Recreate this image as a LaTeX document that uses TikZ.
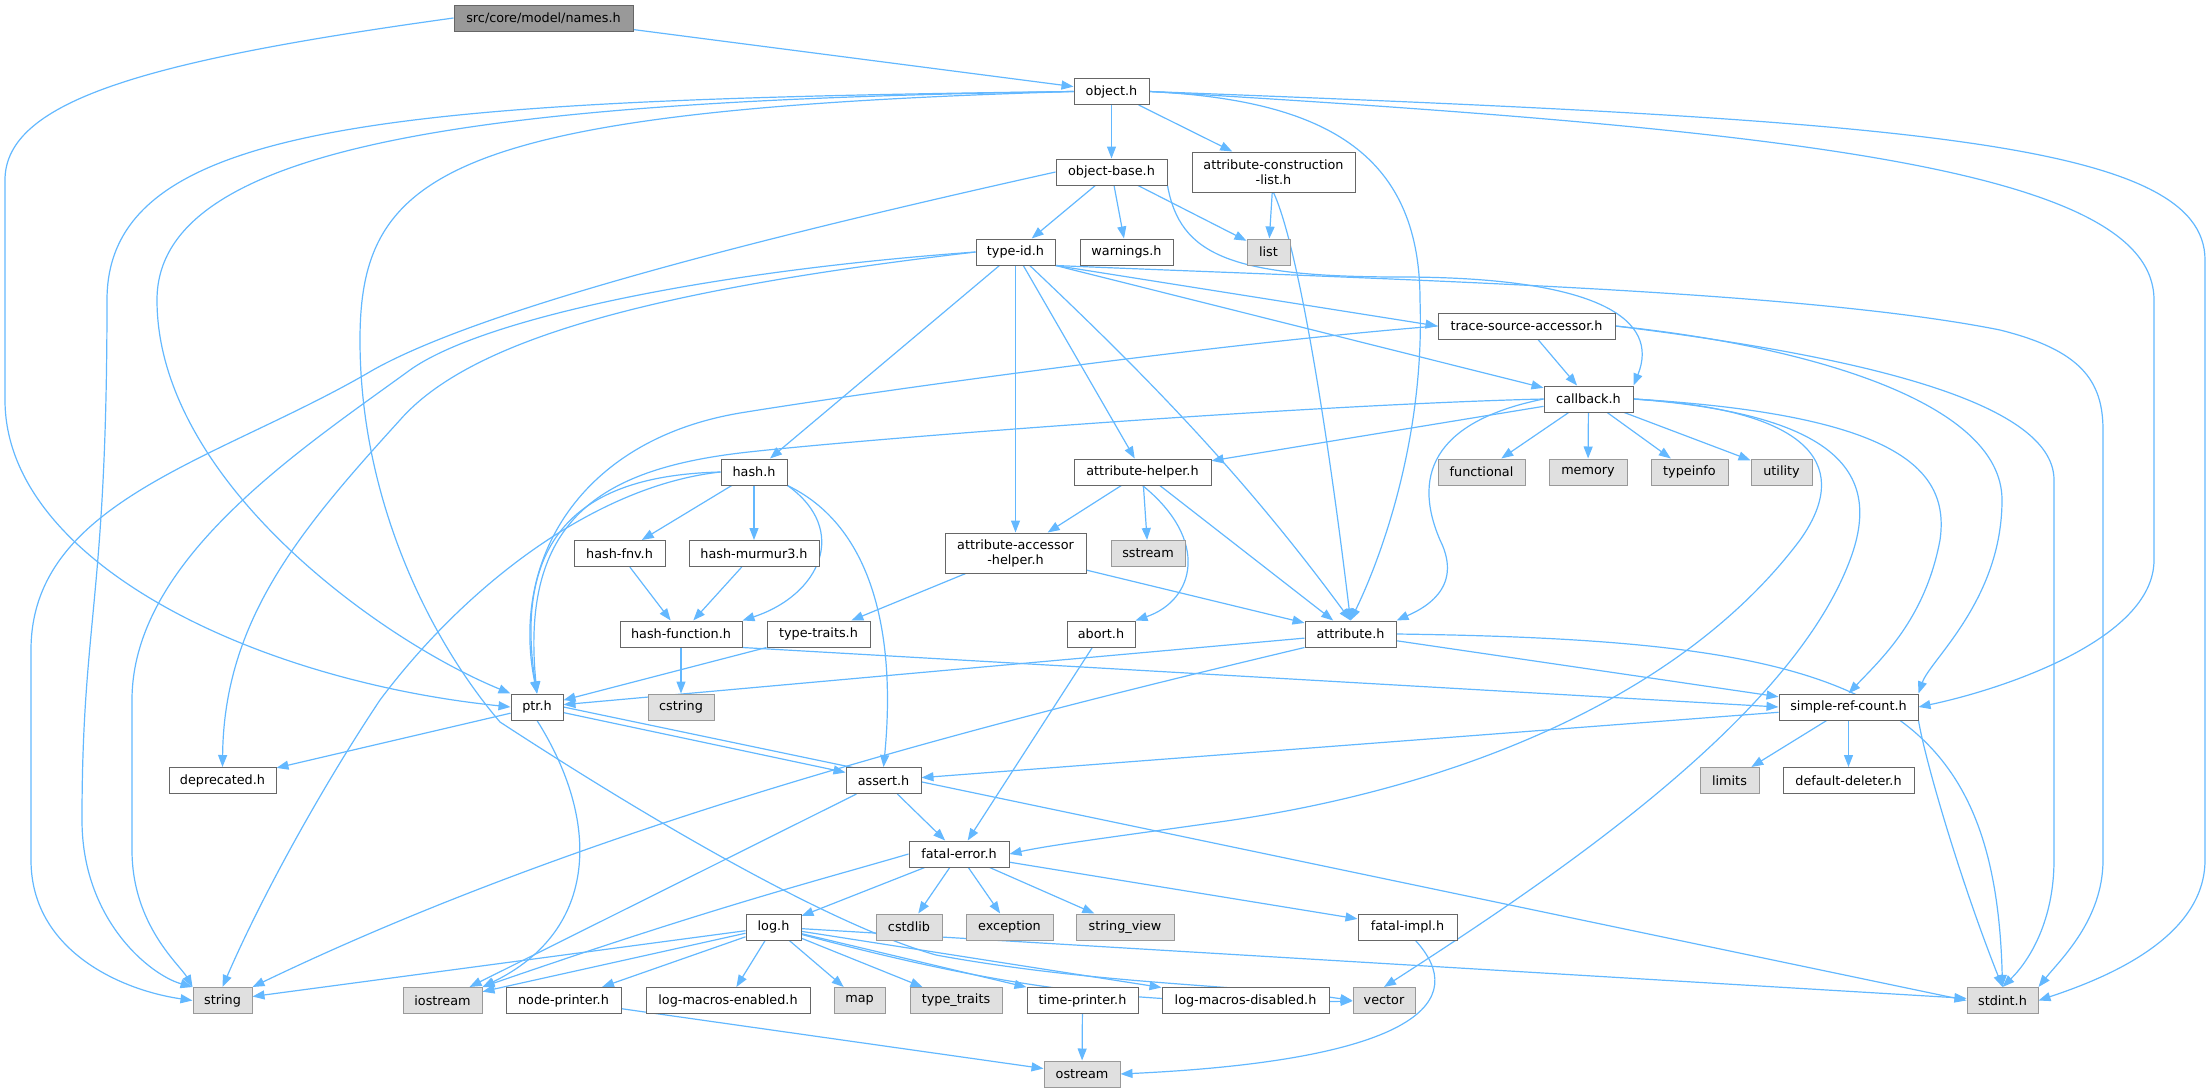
\documentclass[tikz,border=0pt]{standalone}
\usepackage{fontspec}
\setmainfont{DejaVu Sans}
\usepackage{tikz}
\usetikzlibrary{arrows.meta,backgrounds}
\definecolor{edgeblue}{HTML}{63B8FF}
\definecolor{sysfill}{HTML}{E0E0E0}
\definecolor{rootfill}{HTML}{999999}

\begin{document}
\begin{tikzpicture}[
	x=1pt, y=-1pt,
	every node/.style={
		rectangle, draw=black!60, fill=white,
		line width=1pt,
		inner sep=0pt,
		minimum height=26pt,
		align=center,
		font=\fontsize{12.8}{15}\selectfont
	},
	sys/.style={draw=black!40, fill=sysfill},
	root/.style={fill=rootfill},
	dep/.style={draw=edgeblue, line width=1.2pt, -{Triangle[length=12pt,width=9pt]}}
]
\useasboundingbox (0,0) rectangle (2209,1092);

% headers, row by row
\node[root, minimum width=179pt] (names) at (543.5,18) {src/core/model/names.h};
\node[minimum width=75pt] (object) at (1111.5,91.5) {object.h};
\node[minimum width=111pt] (objbase) at (1111.5,172) {object-base.h};
\node[minimum width=163pt, minimum height=40pt] (attrconstr) at (1273.5,172) {attribute-construction\\-list.h};
\node[minimum width=79pt] (typeid) at (1015.5,252) {type-id.h};
\node[minimum width=93pt] (warnings) at (1126.5,252) {warnings.h};
\node[sys, minimum width=43pt] (list) at (1268.5,252) {list};
\node[minimum width=177pt] (tracesrc) at (1526.5,326) {trace-source-accessor.h};
\node[minimum width=89pt] (callback) at (1588.5,399) {callback.h};
\node[minimum width=66pt] (hash) at (754,472) {hash.h};
\node[minimum width=137pt] (attrhelper) at (1142.5,472) {attribute-helper.h};
\node[sys, minimum width=87pt] (functional) at (1481.5,472) {functional};
\node[sys, minimum width=78pt] (memory) at (1588,472) {memory};
\node[sys, minimum width=77pt] (typeinfo) at (1689.5,472) {typeinfo};
\node[sys, minimum width=61pt] (utility) at (1781.5,472) {utility};
\node[minimum width=91pt] (hashfnv) at (619.5,553.5) {hash-fnv.h};
\node[minimum width=130pt] (hashmurmur) at (754,553.5) {hash-murmur3.h};
\node[minimum width=141pt, minimum height=40pt] (attraccessor) at (1015.5,553) {attribute-accessor\\-helper.h};
\node[sys, minimum width=74pt] (sstream) at (1148,553.5) {sstream};
\node[minimum width=122pt] (hashfunction) at (681,634) {hash-function.h};
\node[minimum width=103pt] (typetraits) at (818.5,634) {type-traits.h};
\node[minimum width=68pt] (abort) at (1101,634) {abort.h};
\node[minimum width=91pt] (attribute) at (1350.5,634) {attribute.h};
\node[minimum width=52pt] (ptr) at (537,707) {ptr.h};
\node[sys, minimum width=66pt] (cstring) at (681,707) {cstring};
\node[minimum width=139pt] (simpleref) at (1848.5,707) {simple-ref-count.h};
\node[minimum width=107pt] (deprecated) at (222.5,780.5) {deprecated.h};
\node[minimum width=75pt] (assert) at (883.5,780.5) {assert.h};
\node[sys, minimum width=59pt] (limits) at (1729.5,780.5) {limits};
\node[minimum width=131pt] (defdeleter) at (1848.5,780.5) {default-deleter.h};
\node[minimum width=100pt] (fatalerror) at (959,854) {fatal-error.h};
\node[minimum width=55pt] (log) at (773.5,927) {log.h};
\node[sys, minimum width=66pt] (cstdlib) at (909,927) {cstdlib};
\node[sys, minimum width=87pt] (exception) at (1009.5,927) {exception};
\node[sys, minimum width=98pt] (stringview) at (1125,927) {string\_view};
\node[minimum width=99pt] (fatalimpl) at (1407.5,927) {fatal-impl.h};
\node[sys, minimum width=59pt] (string) at (222.5,1000.5) {string};
\node[sys, minimum width=79pt] (iostream) at (442.5,1000.5) {iostream};
\node[minimum width=115pt] (nodeprinter) at (563.5,1000.5) {node-printer.h};
\node[minimum width=164pt] (logenabled) at (728,1000.5) {log-macros-enabled.h};
\node[sys, minimum width=51pt] (map) at (859.5,1000.5) {map};
\node[sys, minimum width=92pt] (typetraitsstd) at (956,1000.5) {type\_traits};
\node[minimum width=111pt] (timeprinter) at (1082.5,1000.5) {time-printer.h};
\node[minimum width=167pt] (logdisabled) at (1245.5,1000.5) {log-macros-disabled.h};
\node[sys, minimum width=62pt] (vector) at (1384,1000.5) {vector};
\node[sys, minimum width=71pt] (stdint) at (2002.5,1000.5) {stdint.h};
\node[sys, minimum width=76pt] (ostream) at (1082,1074) {ostream};

\begin{scope}[on background layer]
% straight includes
\foreach \s/\t in {names/object, object/objbase, object/attrconstr,
	objbase/typeid, objbase/warnings, objbase/list, attrconstr/list,
	typeid/hash, typeid/attraccessor, typeid/attrhelper,
	tracesrc/callback, callback/functional, callback/memory, callback/typeinfo,
	callback/utility, callback/attrhelper, hash/hashfnv, hash/hashmurmur,
	hashfnv/hashfunction, hashmurmur/hashfunction, hashfunction/cstring,
	attrhelper/attraccessor, attrhelper/sstream, attrhelper/attribute,
	attraccessor/typetraits, attraccessor/attribute, typetraits/ptr, abort/fatalerror,
	attribute/ptr, attribute/simpleref, ptr/deprecated, ptr/assert,
	simpleref/assert, simpleref/limits, simpleref/defdeleter,
	assert/fatalerror, assert/iostream, fatalerror/log, fatalerror/cstdlib,
	fatalerror/exception, fatalerror/stringview, fatalerror/fatalimpl,
	log/string, log/iostream, log/nodeprinter, log/logenabled, log/map,
	log/typetraitsstd, log/timeprinter, log/logdisabled, log/stdint,
	nodeprinter/ostream, timeprinter/ostream}
	\draw[dep] (\s) -- (\t);
\draw[dep] (typeid.south east) -- (tracesrc.west);
\draw[dep] (typeid.south east) -- (callback);
\draw[dep] (hashfunction.south east) -- (simpleref.west);
\draw[dep] (ptr.east) -- (stdint.west);
\draw[dep] (log) to[bend right=8] (vector);

% long ones routed round the sides
\draw[dep] (names.west) .. controls (150,60) and (5,100) .. (5,180) -- (5,400)
	.. controls (5,560) and (250,680) .. (ptr.west);
\draw[dep] (object.west) .. controls (400,100) and (107,120) .. (107,300)
	.. controls (107,600) and (82,620) .. (82,820) .. controls (82,920) and (150,975) .. (string.north west);
\draw[dep] (object.west) .. controls (500,100) and (157,140) .. (157,300)
	.. controls (157,480) and (380,640) .. (ptr.north west);
\draw[dep] (object.west) .. controls (450,110) and (360,170) .. (360,340)
	.. controls (360,500) and (430,640) .. (500,722) .. controls (650,820) and (830,925) .. (936,955)
	.. controls (1100,985) and (1250,985) .. (vector.west);
\draw[dep] (object.east) .. controls (1320,100) and (1420,150) .. (1420,300)
	.. controls (1425,440) and (1380,560) .. (attribute.north);
\draw[dep] (object.east) .. controls (1800,130) and (2154,170) .. (2154,300) -- (2154,560)
	.. controls (2154,640) and (2000,690) .. (simpleref.east);
\draw[dep] (object.east) .. controls (1900,120) and (2205,140) .. (2205,260) -- (2205,860)
	.. controls (2205,940) and (2100,980) .. (stdint.east);
\draw[dep] (objbase.west) .. controls (750,240) and (480,310) .. (373,370)
	.. controls (220,460) and (31,500) .. (31,650) -- (31,860)
	.. controls (31,950) and (120,990) .. (string.west);
\draw[dep] (objbase.south east) .. controls (1180,255) and (1230,277) .. (1400,277)
	.. controls (1600,277) and (1660,320) .. (callback.north east);
\draw[dep] (attrconstr.south) .. controls (1300,250) and (1330,450) .. (attribute.north);
\draw[dep] (typeid) .. controls (1140,370) and (1240,470) .. (attribute.north);
\draw[dep] (typeid.south east) .. controls (1400,280) and (1800,290) .. (2000,330)
	.. controls (2080,350) and (2103,380) .. (2103,430) -- (2103,860)
	.. controls (2103,920) and (2060,960) .. (stdint.north east);
\draw[dep] (typeid.west) .. controls (700,272) and (480,320) .. (410,370)
	.. controls (300,450) and (132,560) .. (132,700) -- (132,850)
	.. controls (132,925) and (180,965) .. (string.north west);
\draw[dep] (typeid.west) .. controls (650,290) and (470,340) .. (400,420)
	.. controls (300,530) and (224,620) .. (deprecated.north);
\draw[dep] (tracesrc.west) .. controls (1200,345) and (850,395) .. (740,413)
	.. controls (580,440) and (510,560) .. (ptr.north);
\draw[dep] (tracesrc.east) .. controls (1800,345) and (2002,400) .. (2002,500)
	.. controls (2002,600) and (1930,660) .. (simpleref.north east);
\draw[dep] (tracesrc.east) .. controls (1850,355) and (2054,400) .. (2054,480) -- (2054,860)
	.. controls (2054,920) and (2030,960) .. (stdint.north);
\draw[dep] (callback.west) .. controls (1440,420) and (1410,470) .. (1440,540)
	.. controls (1465,590) and (1420,610) .. (attribute.north east);
\draw[dep] (callback.west) .. controls (1300,405) and (850,440) .. (740,453)
	.. controls (600,470) and (520,520) .. (ptr.north);
\draw[dep] (callback.east) .. controls (1820,410) and (1850,470) .. (1800,540)
	.. controls (1680,700) and (1450,790) .. (1219,822) .. controls (1120,836) and (1050,845) .. (fatalerror.east);
\draw[dep] (callback.east) .. controls (1850,415) and (1880,480) .. (1850,560)
	.. controls (1790,720) and (1550,880) .. (vector.north);
\draw[dep] (callback.east) .. controls (1900,415) and (1950,470) .. (1940,540)
	.. controls (1925,620) and (1880,660) .. (simpleref.north);
\draw[dep] (hash.west) .. controls (600,475) and (510,520) .. (ptr.north);
\draw[dep] (hash.west) .. controls (600,485) and (470,580) .. (380,700)
	.. controls (320,790) and (260,900) .. (string.north);
\draw[dep] (hash.south east) .. controls (850,530) and (820,595) .. (hashfunction.north east);
\draw[dep] (hash.south east) .. controls (880,530) and (895,650) .. (assert.north);
\draw[dep] (attrhelper.south) .. controls (1210,540) and (1195,600) .. (abort.north east);
\draw[dep] (attribute.south west) .. controls (1000,720) and (600,820) .. (string.north east);
\draw[dep] (attribute.east) .. controls (1850,640) and (1995,690) .. (stdint.north);
\draw[dep] (ptr.south) .. controls (600,820) and (600,930) .. (iostream.north east);
\draw[dep] (simpleref.south east) .. controls (1925,760) and (1960,880) .. (stdint.north);
\draw[dep] (fatalerror.west) .. controls (820,880) and (720,905) .. (iostream.north east);
\draw[dep] ([xshift=8pt]fatalimpl.south) .. controls (1470,1000) and (1420,1060) .. (ostream.east);
\end{scope}
\end{tikzpicture}
\end{document}
